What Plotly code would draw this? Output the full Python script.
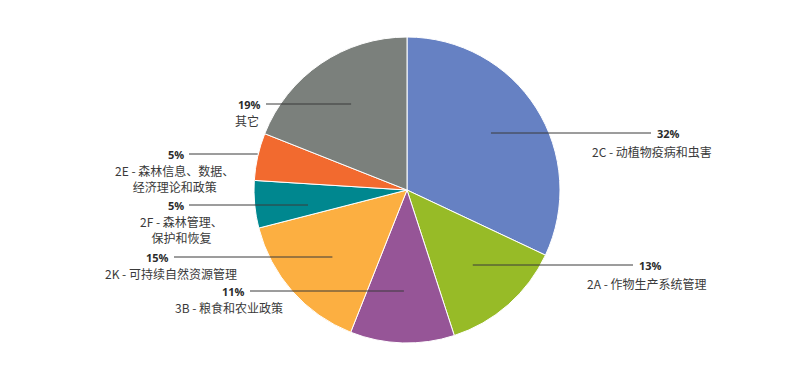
import math
import plotly.graph_objects as go

# ---- data ----
codes = ["2C", "2A", "3B", "2K", "2F", "2E", "其它"]
names = ["2C - 动植物疫病和虫害", "2A - 作物生产系统管理", "3B - 粮食和农业政策",
         "2K - 可持续自然资源管理", "2F - 森林管理、<br>保护和恢复",
         "2E - 森林信息、数据、<br>经济理论和政策", "其它"]
values = [32, 13, 11, 15, 5, 5, 19]
colors = ["#6681C3", "#97BB27", "#965597", "#FCAF41", "#00878F", "#F26A2F", "#7B807C"]

# ---- layout helpers (pixel geometry, page coords) ----
W, H = 800, 379
OFF = 8  # page body margin
CX, CY, R = 407, 190, 153
radial = [0.65, 0.65, 0.65, 0.65, 0.65, 1.0, 0.65]        # where leader line touches slice
label_y = [133, 265, 291, 257, 205, 154, 104]              # leader line / percent y
line_end_x = [651, 633, 250, 174, 189, 189, 266]           # outer end of leader line
side = ["r", "r", "l", "l", "l", "l", "l"]
name_x = [652, 647, 229, 171, 181, 174, 247]
name_dy = [8, 8, 6, 6, 6, 6, 6]

def px(x):
    return (x - OFF) / W

def py(y):
    return 1 - (y - OFF) / H

fig = go.Figure(go.Pie(
    labels=codes, values=values, sort=False, direction="clockwise", rotation=0,
    marker=dict(colors=colors, line=dict(color="white", width=1)),
    textinfo="none", hoverinfo="label+percent", showlegend=False,
    domain=dict(x=[px(CX - R), px(CX + R)], y=[py(CY + R), py(CY - R)]),
))

shapes, annotations = [], []
total = sum(values)
cum = 0
for i, v in enumerate(values):
    mid = (cum + v / 2) / total * 2 * math.pi
    cum += v
    ax = CX + radial[i] * R * math.sin(mid)
    ly = label_y[i]
    shapes.append(dict(type="line", xref="paper", yref="paper",
                       x0=px(ax), y0=py(ly), x1=px(line_end_x[i]), y1=py(ly),
                       line=dict(color="#3a3a3a", width=1)))
    pct = f"{round(v / total * 100)}%"
    if side[i] == "r":
        annotations.append(dict(x=px(line_end_x[i] + 4), y=py(ly), xref="paper", yref="paper",
                                text=f"<b>{pct}</b>", showarrow=False, xanchor="left", yanchor="middle",
                                font=dict(family="Open Sans, sans-serif", size=11, color="#2b2b2b")))
    else:
        annotations.append(dict(x=px(line_end_x[i] - 3), y=py(ly), xref="paper", yref="paper",
                                text=f"<b>{pct}</b>", showarrow=False, xanchor="right", yanchor="middle",
                                font=dict(family="Open Sans, sans-serif", size=11, color="#2b2b2b")))
    annotations.append(dict(x=px(name_x[i]), y=py(ly + name_dy[i]), xref="paper", yref="paper",
                            text=names[i], showarrow=False, xanchor="center", yanchor="top",
                            align="center",
                            font=dict(family="Noto Sans CJK SC, sans-serif", size=12, color="#3a3a3a")))

fig.update_layout(
    width=W, height=H, margin=dict(l=0, r=0, t=0, b=0),
    paper_bgcolor="white", plot_bgcolor="white",
    shapes=shapes, annotations=annotations,
)

fig.write_html("out.html")
